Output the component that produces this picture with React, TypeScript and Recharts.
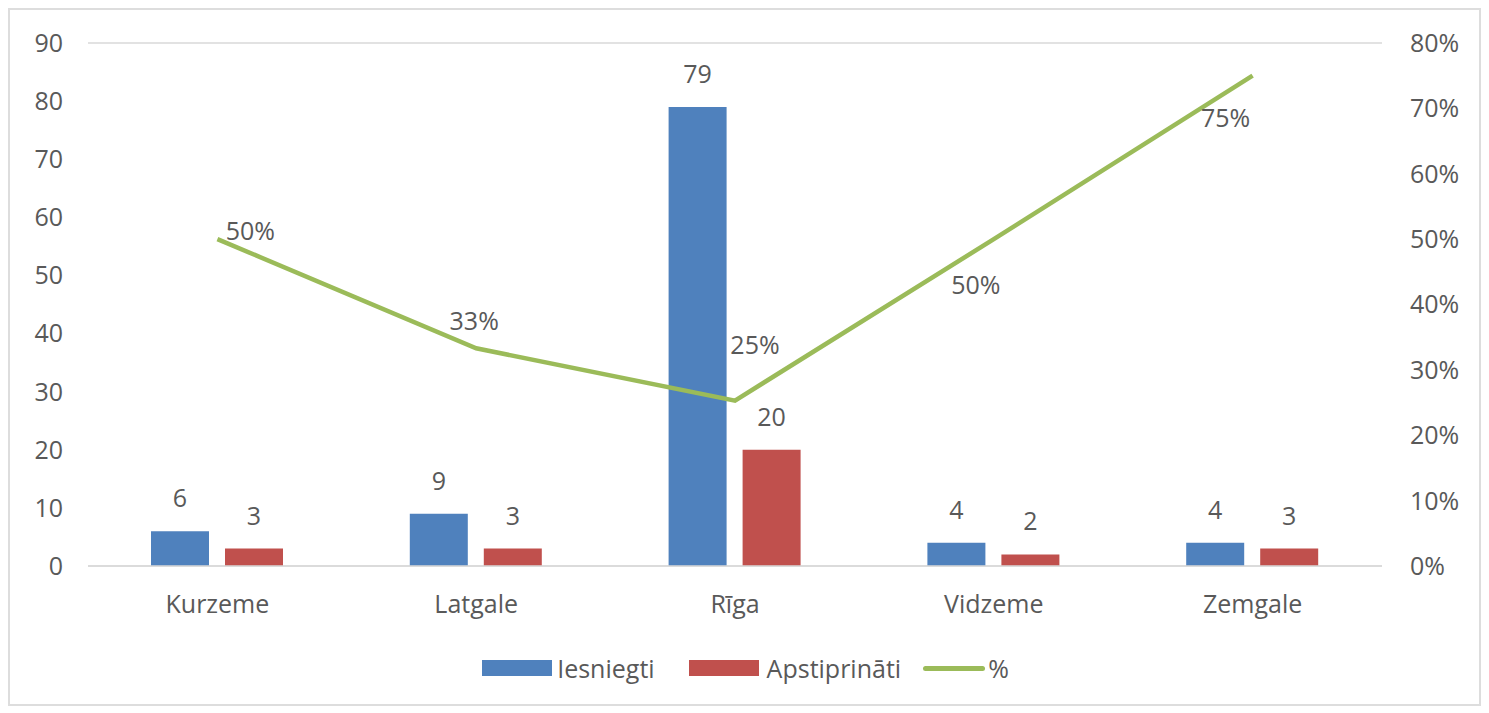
import React from 'react';
import {
  Bar,
  CartesianGrid,
  ComposedChart,
  LabelList,
  Line,
  XAxis,
  YAxis,
} from 'recharts';

const regions = ['Kurzeme', 'Latgale', 'Rīga', 'Vidzeme', 'Zemgale'];
const submitted = [6, 9, 79, 4, 4];
const approved = [3, 3, 20, 2, 3];
const share = [0.5, 0.333, 0.253, 0.5, 0.75];

const leftTicks = [0, 10, 20, 30, 40, 50, 60, 70, 80, 90];
const rightTicks = [0, 0.1, 0.2, 0.3, 0.4, 0.5, 0.6, 0.7, 0.8];

// where each % label sits relative to its point (Excel placed them by hand)
const pctLabelShift = [
  [33, -9],
  [-2, -28],
  [20, -57],
  [-18, 45],
  [-27, 41],
];

const BLUE = '#4F81BD';
const RED = '#C0504D';
const GREEN = '#9BBB59';
const TEXT = '#595959';
const FONT = '"Open Sans", "Noto Sans", sans-serif';
const FS = 25;

const data = regions.map((name, i) => ({
  name,
  iesniegti: submitted[i],
  apstiprinati: approved[i],
  pct: share[i],
}));

const PctLabel = (props: any) => {
  const { x, y, value, index } = props;
  const [dx, dy] = pctLabelShift[index] || [0, -20];
  return (
    <text
      x={x + dx}
      y={y + dy}
      textAnchor="middle"
      dominantBaseline="central"
      fill={TEXT}
      fontSize={FS}
      fontFamily={FONT}
    >
      {Math.round(value * 100)}%
    </text>
  );
};

const tickStyle = { fill: TEXT, fontSize: FS, fontFamily: FONT };

export default function App() {
  return (
    <div
      style={{
        position: 'relative',
        width: 1473,
        height: 698,
        border: '2px solid #DDDDDD',
        boxSizing: 'border-box',
        background: '#fff',
        fontFamily: FONT,
      }}
    >
      <ComposedChart
        width={1469}
        height={610}
        data={data}
        margin={{ top: 33, right: 0, bottom: 0, left: 0 }}
        barCategoryGap="24.5%"
        barGap={16}
      >
        <CartesianGrid vertical={false} stroke="#D9D9D9" strokeWidth={1.5} />
        <XAxis
          dataKey="name"
          height={54}
          axisLine={{ stroke: '#D9D9D9', strokeWidth: 1.5 }}
          tickLine={false}
          tickSize={0}
          tickMargin={29}
          tick={tickStyle}
        />
        <YAxis
          yAxisId="left"
          width={78}
          domain={[0, 90]}
          ticks={leftTicks}
          axisLine={false}
          tickLine={false}
          tickSize={0}
          tickMargin={25}
          tick={tickStyle}
        />
        <YAxis
          yAxisId="right"
          orientation="right"
          width={97}
          domain={[0, 0.8]}
          ticks={rightTicks}
          tickFormatter={(v: number) => `${Math.round(v * 100)}%`}
          axisLine={false}
          tickLine={false}
          tickSize={0}
          tickMargin={28}
          tick={tickStyle}
        />
        <Bar yAxisId="left" dataKey="iesniegti" fill={BLUE} barSize={58} isAnimationActive={false}>
          <LabelList dataKey="iesniegti" position="top" offset={24} fill={TEXT} fontSize={FS} fontFamily={FONT} />
        </Bar>
        <Bar yAxisId="left" dataKey="apstiprinati" fill={RED} barSize={58} isAnimationActive={false}>
          <LabelList dataKey="apstiprinati" position="top" offset={24} fill={TEXT} fontSize={FS} fontFamily={FONT} />
        </Bar>
        <Line
          yAxisId="right"
          dataKey="pct"
          stroke={GREEN}
          strokeWidth={4.5}
          dot={false}
          isAnimationActive={false}
        >
          <LabelList dataKey="pct" content={PctLabel} />
        </Line>
      </ComposedChart>

      <div
        style={{
          position: 'absolute',
          top: 646,
          left: 0,
          right: -2,
          display: 'flex',
          justifyContent: 'center',
          alignItems: 'center',
          fontSize: FS,
          color: TEXT,
          lineHeight: '24px',
        }}
      >
        <span style={{ display: 'inline-block', width: 70, height: 16, background: BLUE, marginRight: 5 }} />
        <span style={{ marginRight: 34 }}>Iesniegti</span>
        <span style={{ display: 'inline-block', width: 70, height: 16, background: RED, marginRight: 8 }} />
        <span style={{ marginRight: 22 }}>Apstiprināti</span>
        <span style={{ display: 'inline-block', width: 62, height: 5, borderRadius: 3, background: GREEN, marginRight: 3 }} />
        <span>%</span>
      </div>
    </div>
  );
}
